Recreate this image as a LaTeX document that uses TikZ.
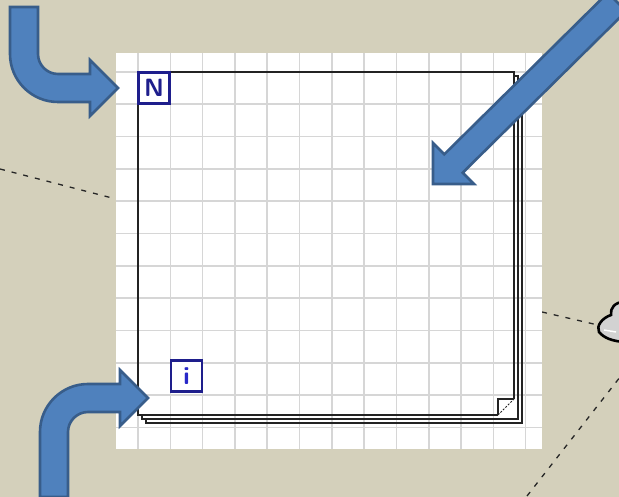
\documentclass[tikz,border=0pt]{standalone}
\usetikzlibrary{calc}
\definecolor{bg}{RGB}{212,208,187}
\definecolor{arrowfill}{RGB}{79,129,189}
\definecolor{arrowline}{RGB}{56,93,138}
\definecolor{navy}{RGB}{30,30,140}
\definecolor{iblue}{RGB}{40,40,200}
\definecolor{gridc}{RGB}{214,214,214}
\definecolor{loopc}{RGB}{35,35,35}
\tikzset{
  dashline/.style={black!85, line width=1.3pt, dash pattern=on 5pt off 7pt},
  gridline/.style={gridc, line width=1.6pt},
  loopline/.style={loopc, line width=2.1pt, line join=miter},
  ctrlbox/.style={draw=navy, line width=2.2pt, fill=white, minimum size=31pt, inner sep=0pt,
    font=\fontsize{25}{25}\selectfont\sffamily\bfseries},
  bigarrow/.style={fill=arrowfill, draw=arrowline, line width=2.6pt, line join=miter},
}
\begin{document}
\begin{tikzpicture}[x=1pt,y=-1pt]
\useasboundingbox (0,0) rectangle (619,497);
\clip (0,0) rectangle (619,497);
\fill[bg] (0,0) rectangle (619,497);

% dashed wires
\coordinate (w1a) at (0,169);
\coordinate (w1b) at (116,199);
\coordinate (w2a) at (542,312);
\coordinate (w2b) at (598,325);
\coordinate (w3a) at (527,496);
\coordinate (w3b) at (624,372);
\draw[dashline] (w1a) -- (w1b);
\draw[dashline] (w2a) -- (w2b);
\draw[dashline] (w3a) -- (w3b);

% icon at right edge
\filldraw[fill=gray!35, draw=black, line width=2.6pt]
  (624,302) .. controls (615,302) and (610,308) .. (611,315)
  .. controls (602,318) and (596,326) .. (599,332)
  .. controls (604,338) and (612,341) .. (624,342) -- cycle;
\draw[white, line width=1.4pt] (604,330) -- (616,332);

% white diagram panel with grid
\fill[white] (116,53) rectangle (542,449);
\foreach \i in {0,...,12} \draw[gridline] ({138+32.3*\i},53) -- ({138+32.3*\i},449);
\foreach \j in {0,...,11} \draw[gridline] (116,{72+32.3*\j}) -- (542,{72+32.3*\j});

% for loop structure (stacked)
\draw[loopline] (146,419) -- (146,423) -- (522,423) -- (522,80) -- (518,80);
\draw[loopline] (142,415) -- (142,419) -- (518,419) -- (518,76) -- (514,76);
\draw[loopline] (498,415) -- (138,415) -- (138,72) -- (514,72) -- (514,399);
\draw[loopc, line width=1.4pt] (514,399) -- (498,399) -- (498,415);
\draw[loopc, line width=1pt, dash pattern=on 2pt off 1.5pt] (498,415) -- (514,399);

% terminals
\node[ctrlbox, text=navy] (N) at (154,88) {N};
\node[ctrlbox, text=iblue] (I) at (186.5,376) {i};

% arrows
\filldraw[bigarrow] (10,7) -- (38,7) -- (38,54)
  .. controls (38,65) and (47,74) .. (58,74) -- (90,74) -- (90,60) -- (118,88)
  -- (90,116) -- (90,102) -- (58,102)
  .. controls (31.5,102) and (10,80.5) .. (10,54) -- cycle;

\filldraw[bigarrow] (40,497) -- (40,432)
  .. controls (40,405.5) and (61.5,384) .. (88,384) -- (120,384) -- (120,370)
  -- (148,398) -- (120,426) -- (120,412) -- (88,412)
  .. controls (77,412) and (68,421) .. (68,432) -- (68,497) -- cycle;

\filldraw[bigarrow] (607.8,-7.2) -- (444.3,154.3) -- (433,143) -- (433,184)
  -- (474,184) -- (462.7,172.7) -- (626.2,11.2) -- cycle;
\end{tikzpicture}
\end{document}
